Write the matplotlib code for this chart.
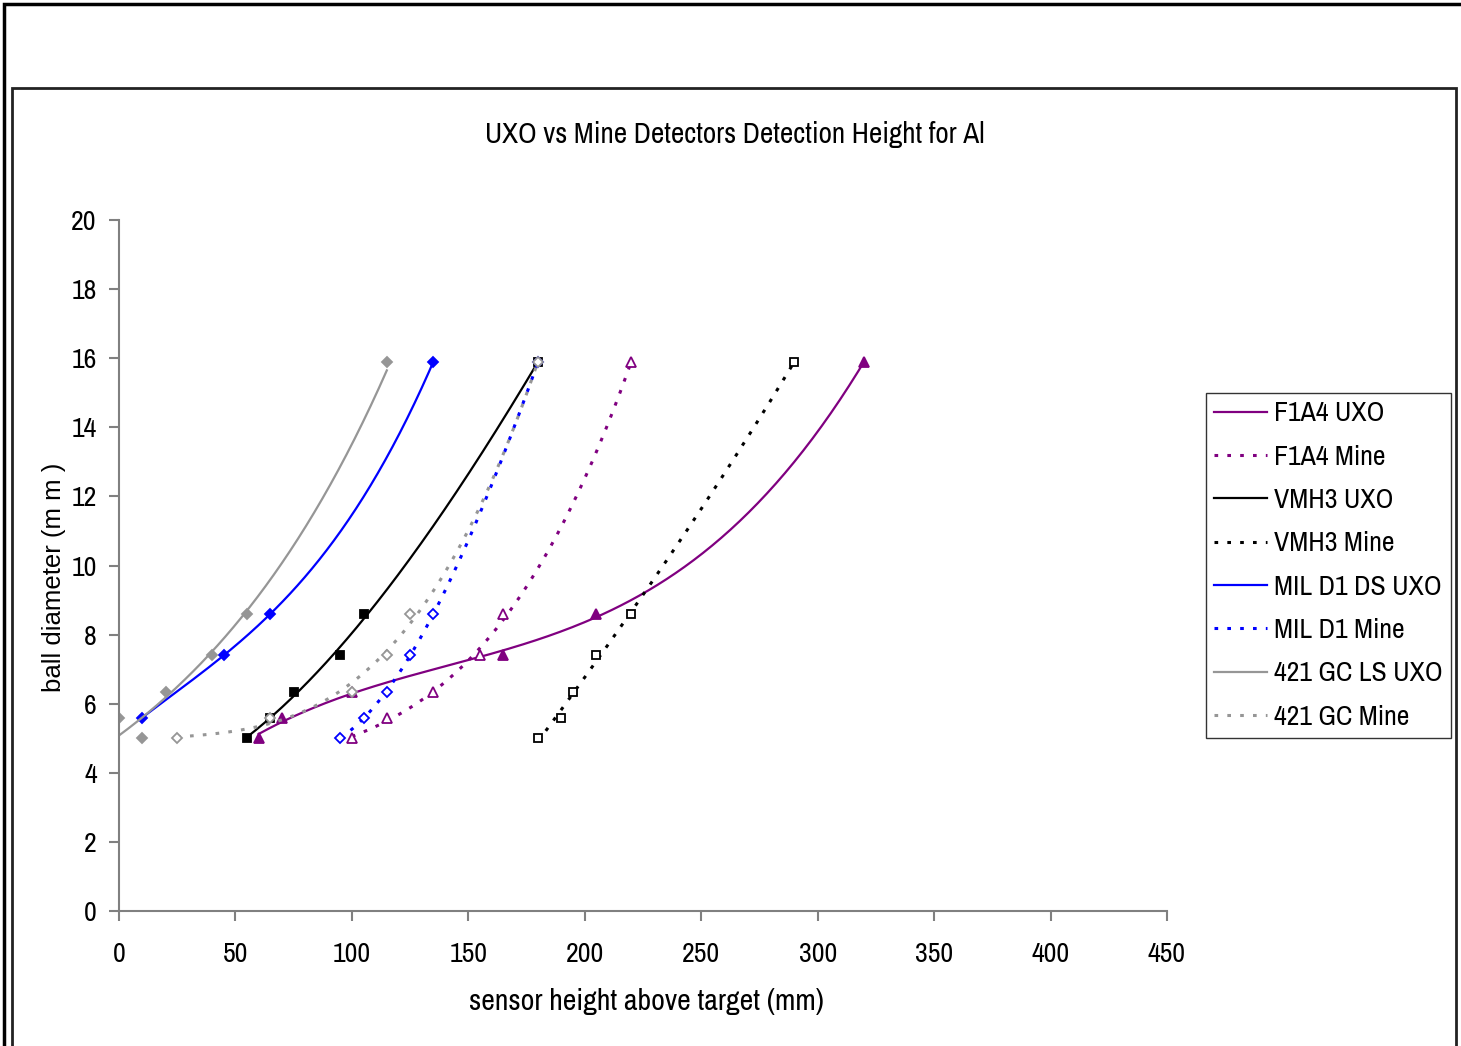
import numpy as np
import matplotlib.pyplot as plt
from matplotlib.patches import Rectangle
from matplotlib.lines import Line2D

# ball diameters (mm) and detection heights (mm) per detector
f1a4_uxo_x = [60, 70, 100, 165, 205, 320]
f1a4_uxo_y = [5.0, 5.6, 6.35, 7.4, 8.6, 15.9]
f1a4_mine_x = [100, 115, 135, 155, 165, 220]
f1a4_mine_y = [5.0, 5.6, 6.35, 7.4, 8.6, 15.9]
vmh3_uxo_x = [55, 65, 75, 95, 105, 180]
vmh3_uxo_y = [5.0, 5.6, 6.35, 7.4, 8.6, 15.9]
vmh3_mine_x = [180, 190, 195, 205, 220, 290]
vmh3_mine_y = [5.0, 5.6, 6.35, 7.4, 8.6, 15.9]
mil_uxo_x = [10, 45, 65, 135]
mil_uxo_y = [5.6, 7.4, 8.6, 15.9]
mil_mine_x = [95, 105, 115, 125, 135, 180]
mil_mine_y = [5.0, 5.6, 6.35, 7.4, 8.6, 15.9]
gc_uxo_x = [0, 10, 20, 40, 55, 115]
gc_uxo_y = [5.6, 5.0, 6.35, 7.4, 8.6, 15.9]
gc_mine_x = [25, 65, 100, 115, 125, 180]
gc_mine_y = [5.0, 5.6, 6.35, 7.4, 8.6, 15.9]

purple = '#800080'
gray = '#969696'
dot = (0, (1.2, 3.0))

# name, x, y, colour, line style, marker, filled, trendline type
series = [
    ('F1A4 UXO', f1a4_uxo_x, f1a4_uxo_y, purple, '-', '^', True, 'poly'),
    ('F1A4 Mine', f1a4_mine_x, f1a4_mine_y, purple, dot, '^', False, 'poly'),
    ('VMH3 UXO', vmh3_uxo_x, vmh3_uxo_y, 'black', '-', 's', True, 'poly'),
    ('VMH3 Mine', vmh3_mine_x, vmh3_mine_y, 'black', dot, 's', False, 'poly'),
    ('MIL D1 DS UXO', mil_uxo_x, mil_uxo_y, 'blue', '-', 'D', True, 'poly'),
    ('MIL D1 Mine', mil_mine_x, mil_mine_y, 'blue', dot, 'D', False, 'poly'),
    ('421 GC LS UXO', gc_uxo_x, gc_uxo_y, gray, '-', 'D', True, 'exp'),
    ('421 GC Mine', gc_mine_x, gc_mine_y, gray, dot, 'D', False, 'poly'),
]
msize = {'^': 7, 's': 5.5, 'D': 5.5}

narrow = ['Liberation Sans Narrow', 'Archivo Narrow', 'Roboto Condensed', 'Liberation Sans', 'DejaVu Sans']
regular = ['Liberation Sans', 'DejaVu Sans']


def trend(x, y, kind, xs):
    if kind == 'exp':
        b, a = np.polyfit(x, np.log(y), 1)
        return np.exp(a + b * xs)
    return np.polyval(np.polyfit(x, y, 3), xs)


fig = plt.figure(figsize=(14.61, 10.46), dpi=100)
ax = fig.add_axes([119/1461, 1-911/1046, (1167-119)/1461, (911-220)/1046])

handles = []
for name, x, y, c, ls, m, filled, kind in series:
    x = np.array(x, float)
    y = np.array(y, float)
    xs = np.linspace(x.min(), x.max(), 200)
    lw = 1.6 if ls == '-' else 2.2
    ax.plot(xs, trend(x, y, kind, xs), color=c, ls=ls, lw=lw)
    ax.plot(x, y, ls='none', marker=m, ms=msize[m], mec=c, mfc=c if filled else 'white', mew=1.3)
    handles.append(Line2D([], [], color=c, ls=ls, lw=lw, label=name))

ax.set_xlim(0, 450)
ax.set_ylim(0, 20)
ax.set_xticks(range(0, 451, 50))
ax.set_yticks(range(0, 21, 2))
for s in ['top', 'right']:
    ax.spines[s].set_visible(False)
for s in ['left', 'bottom']:
    ax.spines[s].set_color('#808080')
    ax.spines[s].set_linewidth(1.5)
ax.tick_params(direction='out', length=7, width=1.5, color='#808080', labelsize=20)
ax.tick_params(axis='x', pad=15)
ax.tick_params(axis='y', pad=9)
for lab in ax.get_xticklabels() + ax.get_yticklabels():
    lab.set_family(narrow)

ax.set_xlabel('sensor height above target (mm)', fontsize=21.5, family=narrow, va='top')
ax.xaxis.set_label_coords(0.503, -0.112)
ax.set_ylabel('ball diameter (m m )', fontsize=18.5, family=regular)
ax.yaxis.set_label_coords(-0.0506, 0.483)
fig.text(735/1461, 1-134/1046, 'UXO vs Mine Detectors Detection Height for Al', fontsize=21,
         family=narrow, ha='center', va='center')

leg = fig.legend(handles=handles, loc='upper left', bbox_to_anchor=(1206/1461, 1-393/1046),
                 frameon=True, fancybox=False, edgecolor='black', handlelength=1.9,
                 labelspacing=0.66, borderpad=0.3, handletextpad=0.25, borderaxespad=0,
                 prop={'family': narrow, 'size': 20})
leg.get_frame().set_linewidth(1.0)

# outer and inner frames
fig.patches.append(Rectangle((4/1461, -0.1), 1.2, 1-4/1046 + 0.1, transform=fig.transFigure,
                             fill=False, ec='black', lw=2.5))
fig.patches.append(Rectangle((12/1461, -0.1), (1456-12)/1461, 1-88/1046 + 0.1, transform=fig.transFigure,
                             fill=False, ec='#222222', lw=2.0))

fig.savefig('out.png', dpi=100)
